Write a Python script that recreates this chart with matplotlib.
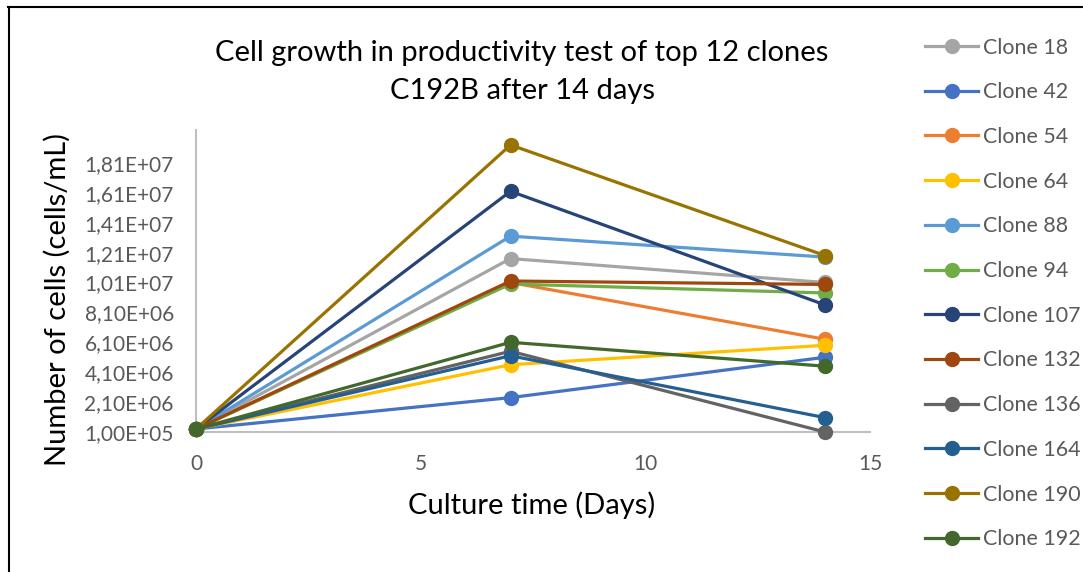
import matplotlib
matplotlib.use("Agg")
import matplotlib.pyplot as plt
from matplotlib.ticker import FuncFormatter
from matplotlib.lines import Line2D

days = [0, 7, 14]

clones = ["Clone 18", "Clone 42", "Clone 54", "Clone 64", "Clone 88", "Clone 94",
          "Clone 107", "Clone 132", "Clone 136", "Clone 164", "Clone 190", "Clone 192"]

clone_18 = [3.0e5, 1.17e7, 1.01e7]
clone_42 = [3.0e5, 2.4e6, 5.1e6]
clone_54 = [3.0e5, 1.01e7, 6.3e6]
clone_64 = [3.0e5, 4.6e6, 5.9e6]
clone_88 = [3.0e5, 1.32e7, 1.18e7]
clone_94 = [3.0e5, 1.00e7, 9.4e6]
clone_107 = [3.0e5, 1.62e7, 8.6e6]
clone_132 = [3.0e5, 1.02e7, 9.97e6]
clone_136 = [3.0e5, 5.5e6, 1.0e5]
clone_164 = [3.0e5, 5.2e6, 1.06e6]
clone_190 = [3.0e5, 1.93e7, 1.19e7]
clone_192 = [3.0e5, 6.1e6, 4.5e6]

series = [clone_18, clone_42, clone_54, clone_64, clone_88, clone_94,
          clone_107, clone_132, clone_136, clone_164, clone_190, clone_192]

colors = ["#A5A5A5", "#4472C4", "#ED7D31", "#FFC000", "#5B9BD5", "#70AD47",
          "#264478", "#9E480E", "#636363", "#255E91", "#997300", "#43682B"]

y_ticks = [1.0e5, 2.1e6, 4.1e6, 6.1e6, 8.1e6, 1.01e7, 1.21e7, 1.41e7, 1.61e7, 1.81e7]
x_ticks = [0, 5, 10, 15]

plt.rcParams['font.family'] = ['Lato', 'DejaVu Sans']

fig = plt.figure(figsize=(10.83, 5.72), dpi=100)
ax = fig.add_axes([196 / 1083, 1 - 432 / 572, 674 / 1083, 302 / 572])

for vals, col, name in zip(series, colors, clones):
    ax.plot(days, vals, color=col, linewidth=2.3, marker='o', markersize=10,
            label=name, clip_on=False, zorder=3)

ax.set_xlim(0, 15)
ax.set_ylim(1.0e5, 2.03e7)
ax.set_xticks(x_ticks)
ax.set_yticks(y_ticks)
ax.yaxis.set_major_formatter(FuncFormatter(lambda v, p: f"{v:.2E}".replace('.', ',')))
ax.tick_params(length=0, labelsize=15, colors='#595959')
ax.tick_params(axis='y', pad=16)
ax.tick_params(axis='x', pad=16)

for side in ['top', 'right']:
    ax.spines[side].set_visible(False)
for side in ['left', 'bottom']:
    ax.spines[side].set_color('#BFBFBF')
    ax.spines[side].set_linewidth(1.5)
ax.set_facecolor('none')

fig.text(522 / 1083, 1 - 72 / 572,
         "Cell growth in productivity test of top 12 clones\nC192B after 14 days",
         ha='center', va='center', fontsize=21, linespacing=1.57)
fig.text(532 / 1083, 1 - 505 / 572, "Culture time (Days)", ha='center', va='center', fontsize=21)
fig.text(57 / 1083, 1 - 300 / 572, "Number of cells (cells/mL)", ha='center', va='center',
         rotation=90, fontsize=21)

handles = [Line2D([], [], color=c, linewidth=2.3, marker='o', markersize=10) for c in colors]
leg = fig.legend(handles, clones, loc='upper left', bbox_to_anchor=(916.5 / 1083, 1 - 29 / 572),
                 frameon=False, fontsize=15.4, handlelength=2.48, handletextpad=0.23,
                 labelspacing=1.155, borderaxespad=0)
for t in leg.get_texts():
    t.set_color('#595959')

# chart frame
fig.add_artist(Line2D([8.5 / 1083, 8.5 / 1083], [0, 1 - 7 / 572], color='black', linewidth=1.5))
fig.add_artist(Line2D([8 / 1083, 1], [1 - 7 / 572, 1 - 7 / 572], color='black', linewidth=1.5))

fig.savefig("out.png", dpi=100)
